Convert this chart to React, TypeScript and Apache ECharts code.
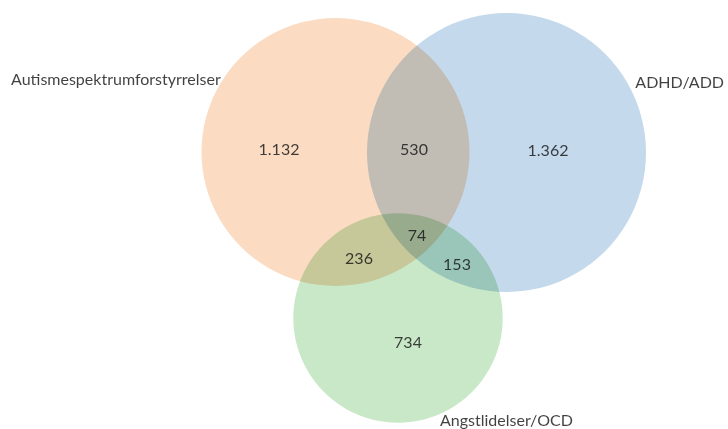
import React, { useEffect, useRef } from "react";
import * as echarts from "echarts";

// Sets (circles): centre x, centre y, radius in layout units
const setNames = ["Autismespektrumforstyrrelser", "ADHD/ADD", "Angstlidelser/OCD"];
const setCenterX = [335.5, 506.5, 398];
const setCenterY = [152, 152.5, 318];
const setRadius = [134, 139.5, 104.7];
const setColors = ["#FBDCC3", "#C4DAEC", "#C9E8C8"];

// Set name label anchors
const setLabelX = [11, 724, 440];
const setLabelY = [78, 81, 419];

// Region counts
const regionLabels = ["1.132", "530", "1.362", "74", "236", "153", "734"];
const regionX = [279, 414, 548, 417, 359, 457, 408];
const regionY = [148, 148, 149, 234, 257, 263, 341];

const W = 728;
const H = 429;

export default function App() {
  const ref = useRef<HTMLDivElement>(null);
  useEffect(() => {
    document.body.style.margin = "0";
    const chart = echarts.init(ref.current!, null, { renderer: "svg" });
    chart.setOption({
      animation: false,
      backgroundColor: "transparent",
      grid: { left: 0, right: 0, top: 0, bottom: 0 },
      xAxis: { type: "value", min: 0, max: W, show: false },
      yAxis: { type: "value", min: 0, max: H, inverse: true, show: false },
      series: [
        {
          type: "custom",
          silent: true,
          data: setNames.map((n, i) => [setCenterX[i], setCenterY[i], setRadius[i]]),
          renderItem: (params: any, api: any) => {
            const c = api.coord([api.value(0), api.value(1)]);
            const r = api.size([api.value(2), 0])[0];
            return {
              type: "circle",
              shape: { cx: c[0], cy: c[1], r },
              style: { fill: setColors[params.dataIndex], stroke: "none" },
            };
          },
          z: 1,
        },
        {
          type: "scatter",
          symbolSize: 0,
          silent: true,
          z: 5,
          data: regionLabels.map((l, i) => ({ name: l, value: [regionX[i], regionY[i]] })),
          label: {
            show: true,
            position: "inside",
            formatter: (p: any) => p.name,
            fontFamily: "Lato",
            fontSize: 16,
            color: "#111111",
            align: "center",
            verticalAlign: "middle",
          },
        },
        {
          type: "scatter",
          symbolSize: 0,
          silent: true,
          z: 5,
          data: setNames.map((l, i) => ({
            name: l,
            value: [setLabelX[i], setLabelY[i]],
            label: { align: i === 1 ? "right" : "left" },
          })),
          label: {
            show: true,
            position: "inside",
            formatter: (p: any) => p.name,
            fontFamily: "Lato",
            fontSize: 16,
            color: "#111111",
            verticalAlign: "middle",
          },
        },
      ],
    });
    return () => chart.dispose();
  }, []);
  return (
    <>
      <style>{`.venn-chart svg circle, .venn-chart svg path { mix-blend-mode: multiply; }`}</style>
      <div
        ref={ref}
        className="venn-chart"
        style={{ position: "absolute", left: 0, top: 0, width: W, height: H, background: "#ffffff" }}
      />
    </>
  );
}
